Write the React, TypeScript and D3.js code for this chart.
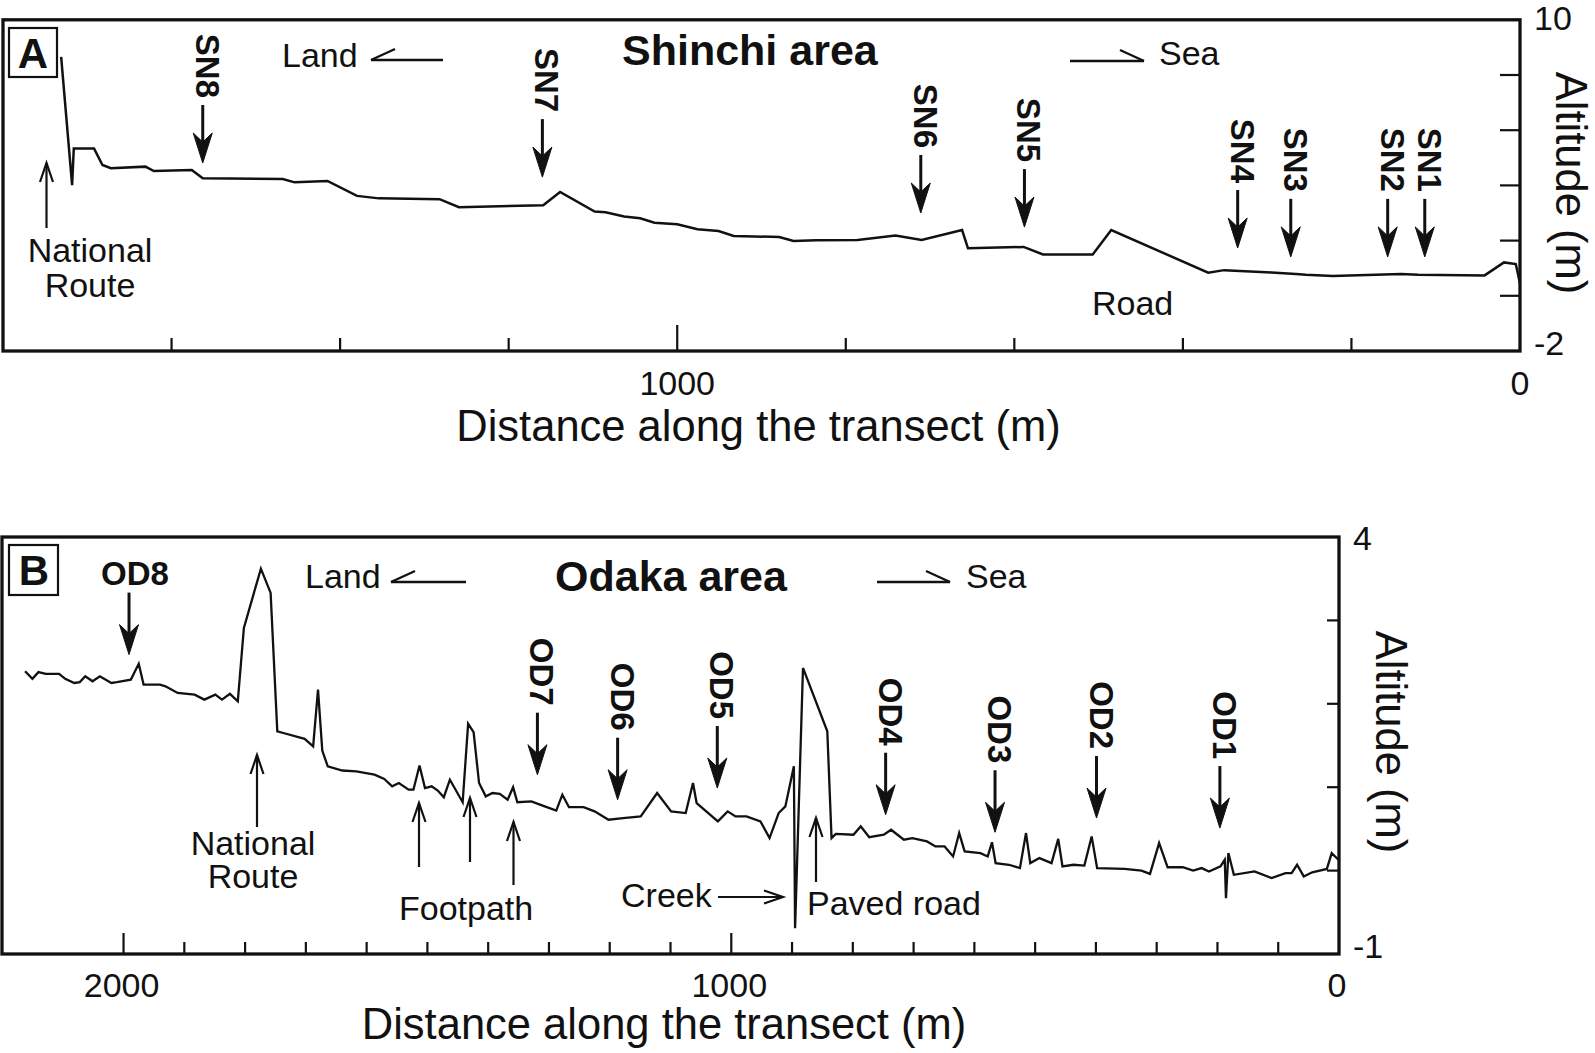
import React from 'react';
import * as d3 from 'd3';

// ---------------- DATA ----------------
// Panel A: Shinchi area profile (distance from shore in m, altitude in m)
const shinchiDistance = [1731, 1718, 1716, 1692, 1682, 1672, 1631, 1621, 1576, 1563, 1468, 1454, 1415, 1380, 1354, 1282, 1259, 1159, 1139, 1098, 1085, 1063, 1044, 1027, 1000, 976, 951, 933, 879, 862, 835, 786, 741, 710, 662, 655, 589, 566, 507, 485, 370, 351, 295, 266, 254, 222, 202, 141, 121, 42, 19, 5, 0];
const shinchiAltitude = [8.66, 4.01, 5.34, 5.34, 4.74, 4.62, 4.68, 4.52, 4.56, 4.26, 4.23, 4.11, 4.16, 3.62, 3.53, 3.5, 3.21, 3.28, 3.76, 3.05, 3.03, 2.87, 2.81, 2.65, 2.59, 2.41, 2.35, 2.17, 2.13, 1.99, 2.01, 2.02, 2.18, 2.02, 2.38, 1.72, 1.77, 1.5, 1.5, 2.38, 0.84, 0.93, 0.84, 0.79, 0.76, 0.72, 0.74, 0.79, 0.76, 0.74, 1.21, 1.15, 0.45];

// Panel B: Odaka area profile
const odakaDistance = [2162, 2150, 2140, 2128, 2106, 2096, 2081, 2072, 2063, 2051, 2039, 2020, 2011, 1988, 1975, 1967, 1940, 1931, 1911, 1883, 1867, 1849, 1838, 1825, 1812, 1802, 1774, 1758, 1747, 1737, 1702, 1688, 1680, 1673, 1664, 1640, 1617, 1587, 1571, 1558, 1547, 1531, 1523, 1513, 1504, 1493, 1483, 1473, 1463, 1442, 1433, 1424, 1415, 1404, 1393, 1381, 1368, 1359, 1352, 1329, 1307, 1288, 1278, 1267, 1243, 1225, 1202, 1178, 1149, 1122, 1099, 1075, 1063, 1057, 1022, 1006, 993, 975, 952, 937, 922, 911, 897, 895, 882, 842, 835, 828, 799, 787, 773, 749, 737, 716, 702, 678, 664, 649, 635, 625, 616, 590, 578, 571, 565, 543, 525, 515, 508, 493, 473, 462, 455, 437, 419, 407, 398, 353, 325, 311, 296, 282, 257, 240, 226, 214, 195, 188, 186, 182, 173, 139, 111, 88, 78, 69, 58, 44, 20, 12, 1];
const odakaAltitude = [2.39, 2.3, 2.38, 2.36, 2.36, 2.3, 2.25, 2.26, 2.33, 2.27, 2.33, 2.25, 2.26, 2.29, 2.48, 2.23, 2.23, 2.21, 2.13, 2.11, 2.05, 2.11, 2.05, 2.12, 2.03, 2.91, 3.62, 3.33, 1.67, 1.65, 1.58, 1.49, 2.17, 1.44, 1.25, 1.2, 1.19, 1.15, 1.1, 1.01, 1.05, 0.97, 0.97, 1.26, 0.99, 1.01, 0.96, 0.88, 1.09, 0.82, 1.76, 1.66, 1.05, 0.89, 0.93, 0.92, 0.85, 1.0, 0.82, 0.83, 0.77, 0.72, 0.91, 0.76, 0.76, 0.71, 0.61, 0.63, 0.65, 0.93, 0.71, 0.69, 1.05, 0.81, 0.59, 0.71, 0.65, 0.65, 0.59, 0.39, 0.69, 0.77, 1.25, -0.69, 2.43, 1.67, 0.39, 0.44, 0.43, 0.53, 0.4, 0.43, 0.49, 0.37, 0.39, 0.35, 0.29, 0.29, 0.17, 0.45, 0.23, 0.21, 0.17, 0.34, 0.09, 0.07, 0.03, 0.45, 0.09, 0.15, 0.09, 0.38, 0.05, 0.07, 0.06, 0.41, 0.03, 0.02, 0.0, -0.04, 0.33, 0.04, 0.04, 0.0, 0.03, -0.01, 0.05, 0.13, -0.33, 0.21, -0.05, -0.01, -0.09, -0.03, -0.03, 0.07, -0.07, -0.02, 0.02, 0.21, 0.13];

// Sampling sites
const shinchiSamples = ['SN8', 'SN7', 'SN6', 'SN5', 'SN4', 'SN3', 'SN2', 'SN1'];
const shinchiSampleDistance = [1563, 1160, 711, 588, 335, 272, 157, 113];
const shinchiArrowTipAltitude = [4.81, 4.3, 3.0, 2.49, 1.73, 1.41, 1.41, 1.41];

const odakaSamples = ['OD7', 'OD6', 'OD5', 'OD4', 'OD3', 'OD2', 'OD1'];
const odakaSampleDistance = [1319, 1187, 1023, 746, 566, 399, 196];
const odakaArrowTipAltitude = [1.15, 0.85, 0.99, 0.67, 0.46, 0.63, 0.51];
const od8Distance = 1991;
const od8ArrowTipAltitude = 2.59;

// Axes
const shinchiXDomain = [1800, 0];
const shinchiYDomain = [-2, 10];
const shinchiXTicks = [1600, 1400, 1200, 1000, 800, 600, 400, 200];
const shinchiXMajor = [1000];
const shinchiXLabels = [1000, 0];
const shinchiYTicks = [8, 6, 4, 2, 0];
const shinchiYLabels = [10, -2];

const odakaXDomain = [2200, 0];
const odakaYDomain = [-1, 4];
const odakaXTicks = [2000, 1900, 1800, 1700, 1600, 1500, 1400, 1300, 1200, 1100, 1000, 900, 800, 700, 600, 500, 400, 300, 200, 100];
const odakaXMajor = [2000, 1000];
const odakaXLabels = [2000, 1000, 0];
const odakaYTicks = [3, 2, 1, 0];
const odakaYLabels = [4, -1];

// ---------------- LAYOUT ----------------
const FONT = "'Liberation Sans', Arial, Helvetica, sans-serif";
const INK = '#111';

const xA = d3.scaleLinear().domain(shinchiXDomain).range([3, 1520]);
const yA = d3.scaleLinear().domain(shinchiYDomain).range([351, 19.8]);
const xB = d3.scaleLinear().domain(odakaXDomain).range([2, 1339]);
const yB = d3.scaleLinear().domain(odakaYDomain).range([954, 537]);

function SampleArrow({ x, tipY, label, rotated = true, shaft = 58 }: any) {
  const top = tipY - shaft;
  const head = `M${x},${tipY} L${x - 9.5},${tipY - 30} L${x},${tipY - 21} L${x + 9.5},${tipY - 30} Z`;
  return (
    <g>
      <line x1={x} y1={top} x2={x} y2={tipY - 18} stroke={INK} strokeWidth={3} />
      <path d={head} fill={INK} stroke={INK} strokeWidth={1} strokeLinejoin="miter" />
      {rotated ? (
        <text
          transform={`translate(${x - 7},${top - 7}) rotate(90)`}
          textAnchor="end"
          fontFamily={FONT}
          fontWeight="bold"
          fontSize={33}
          fill={INK}
        >
          {label}
        </text>
      ) : (
        <text x={x + 6} y={top - 8} textAnchor="middle" fontFamily={FONT} fontWeight="bold" fontSize={33} fill={INK}>
          {label}
        </text>
      )}
    </g>
  );
}

function ThinArrow({ x1, y1, x2, y2 }: any) {
  const ang = Math.atan2(y2 - y1, x2 - x1);
  const L = 19;
  const w = 6.5;
  const bx = x2 - L * Math.cos(ang);
  const by = y2 - L * Math.sin(ang);
  const px = -Math.sin(ang) * w;
  const py = Math.cos(ang) * w;
  return (
    <g stroke={INK} strokeWidth={2.2} fill="none">
      <line x1={x1} y1={y1} x2={x2} y2={y2} />
      <path d={`M${bx + px},${by + py} L${x2},${y2} L${bx - px},${by - py}`} strokeLinejoin="miter" />
    </g>
  );
}

function Harpoon({ x1, x2, y, dir }: any) {
  const tip = dir < 0 ? x1 : x2;
  const bx = tip - dir * 24;
  return (
    <g stroke={INK} strokeWidth={2.3} fill="none">
      <line x1={x1} y1={y} x2={x2} y2={y} />
      <line x1={tip} y1={y} x2={bx} y2={y - 11} />
    </g>
  );
}

function Txt({ x, y, children, anchor = 'start', size = 34, weight = 'normal' }: any) {
  return (
    <text x={x} y={y} textAnchor={anchor} fontFamily={FONT} fontSize={size} fontWeight={weight} fill={INK}>
      {children}
    </text>
  );
}

export default function App() {
  const lineA = d3
    .line<number>()
    .x((d) => xA(shinchiDistance[d]))
    .y((d) => yA(shinchiAltitude[d]));
  const lineB = d3
    .line<number>()
    .x((d) => xB(odakaDistance[d]))
    .y((d) => yB(odakaAltitude[d]));
  const idxA = d3.range(shinchiDistance.length);
  const idxB = d3.range(odakaDistance.length);

  const aL = xA(shinchiXDomain[0]);
  const aR = xA(shinchiXDomain[1]);
  const aT = yA(shinchiYDomain[1]);
  const aB = yA(shinchiYDomain[0]);
  const bL = xB(odakaXDomain[0]);
  const bR = xB(odakaXDomain[1]);
  const bT = yB(odakaYDomain[1]);
  const bB = yB(odakaYDomain[0]);

  return (
    <svg
      width={1595}
      height={1053}
      style={{ position: 'absolute', left: 0, top: 0, background: '#fff' }}
      xmlns="http://www.w3.org/2000/svg"
    >
      <rect x={0} y={0} width={1595} height={1053} fill="#fff" />

      {/* ================= PANEL A ================= */}
      <g>
        {shinchiXTicks.map((t) => (
          <line key={'xa' + t} x1={xA(t)} x2={xA(t)} y1={aB} y2={aB - (shinchiXMajor.includes(t) ? 26 : 13)} stroke={INK} strokeWidth={2.2} />
        ))}
        {shinchiYTicks.map((t) => (
          <line key={'ya' + t} x1={aR} x2={aR - 20} y1={yA(t)} y2={yA(t)} stroke={INK} strokeWidth={2.2} />
        ))}
        <path d={lineA(idxA) || ''} fill="none" stroke={INK} strokeWidth={2.5} strokeLinejoin="miter" />
        <rect x={aL} y={aT} width={aR - aL} height={aB - aT} fill="none" stroke={INK} strokeWidth={3.3} />

        {shinchiXLabels.map((t) => (
          <Txt key={'xla' + t} x={xA(t)} y={395} anchor="middle">
            {t}
          </Txt>
        ))}
        {shinchiYLabels.map((t, i) => (
          <Txt key={'yla' + t} x={aR + 14} y={yA(t) + (i === 0 ? 10 : 4)} anchor="start">
            {t}
          </Txt>
        ))}
        <Txt x={(aL + aR) / 2 - 3} y={441} anchor="middle" size={43.5}>
          Distance along the transect (m)
        </Txt>
        <text transform={`translate(1556,183) rotate(90)`} textAnchor="middle" fontFamily={FONT} fontSize={43.5} fill={INK}>
          Altitude (m)
        </text>

        <rect x={9} y={28} width={48} height={49} fill="none" stroke={INK} strokeWidth={2.2} />
        <Txt x={33} y={68} anchor="middle" size={42} weight="bold">
          A
        </Txt>

        <Txt x={622} y={65} size={43} weight="bold">
          Shinchi area
        </Txt>
        <Txt x={282} y={67}>Land</Txt>
        <Harpoon x1={371} x2={443} y={60} dir={-1} />
        <Harpoon x1={1070} x2={1144} y={61} dir={1} />
        <Txt x={1159} y={65}>Sea</Txt>

        <Txt x={90} y={262} anchor="middle">National</Txt>
        <Txt x={90} y={297} anchor="middle">Route</Txt>
        <ThinArrow x1={46.5} y1={228} x2={46.5} y2={163} />
        <Txt x={1092} y={315}>Road</Txt>

        {shinchiSamples.map((s, i) => (
          <SampleArrow key={s} x={xA(shinchiSampleDistance[i])} tipY={yA(shinchiArrowTipAltitude[i])} label={s} />
        ))}
      </g>

      {/* ================= PANEL B ================= */}
      <g>
        {odakaXTicks.map((t) => (
          <line key={'xb' + t} x1={xB(t)} x2={xB(t)} y1={bB} y2={bB - (odakaXMajor.includes(t) ? 21 : 12)} stroke={INK} strokeWidth={2.2} />
        ))}
        {odakaYTicks.map((t) => (
          <line key={'yb' + t} x1={bR} x2={bR - 12} y1={yB(t)} y2={yB(t)} stroke={INK} strokeWidth={2.2} />
        ))}
        <path d={lineB(idxB) || ''} fill="none" stroke={INK} strokeWidth={2.3} strokeLinejoin="miter" />
        <rect x={bL} y={bT} width={bR - bL} height={bB - bT} fill="none" stroke={INK} strokeWidth={3.3} />

        {odakaXLabels.map((t) => (
          <Txt key={'xlb' + t} x={xB(t) - 2} y={997} anchor="middle">
            {t}
          </Txt>
        ))}
        {odakaYLabels.map((t, i) => (
          <Txt key={'ylb' + t} x={bR + 14} y={yB(t) + (i === 0 ? 13 : 4)} anchor="start">
            {t}
          </Txt>
        ))}
        <Txt x={664} y={1039} anchor="middle" size={43.5}>
          Distance along the transect (m)
        </Txt>
        <text transform={`translate(1376,742) rotate(90)`} textAnchor="middle" fontFamily={FONT} fontSize={43.5} fill={INK}>
          Altitude (m)
        </text>

        <rect x={9} y={545} width={49} height={50} fill="none" stroke={INK} strokeWidth={2.2} />
        <Txt x={34} y={585} anchor="middle" size={42} weight="bold">
          B
        </Txt>

        <Txt x={555} y={591} size={43} weight="bold">
          Odaka area
        </Txt>
        <Txt x={305} y={588}>Land</Txt>
        <Harpoon x1={391} x2={466} y={582} dir={-1} />
        <Harpoon x1={877} x2={950} y={582} dir={1} />
        <Txt x={966} y={588}>Sea</Txt>

        <Txt x={253} y={855} anchor="middle">National</Txt>
        <Txt x={253} y={888} anchor="middle">Route</Txt>
        <ThinArrow x1={257} y1={827} x2={257} y2={755} />

        <ThinArrow x1={419} y1={867} x2={419} y2={803} />
        <ThinArrow x1={470} y1={862} x2={470} y2={798} />
        <ThinArrow x1={513.5} y1={885} x2={513.5} y2={822} />
        <Txt x={399} y={920}>Footpath</Txt>

        <Txt x={621} y={907}>Creek</Txt>
        <ThinArrow x1={718} y1={897} x2={783} y2={897} />
        <Txt x={807} y={915}>Paved road</Txt>
        <ThinArrow x1={816} y1={882} x2={816} y2={818} />

        <SampleArrow x={xB(od8Distance)} tipY={yB(od8ArrowTipAltitude)} label="OD8" rotated={false} shaft={62} />
        {odakaSamples.map((s, i) => (
          <SampleArrow key={s} x={xB(odakaSampleDistance[i])} tipY={yB(odakaArrowTipAltitude[i])} label={s} shaft={62} />
        ))}
      </g>
    </svg>
  );
}
